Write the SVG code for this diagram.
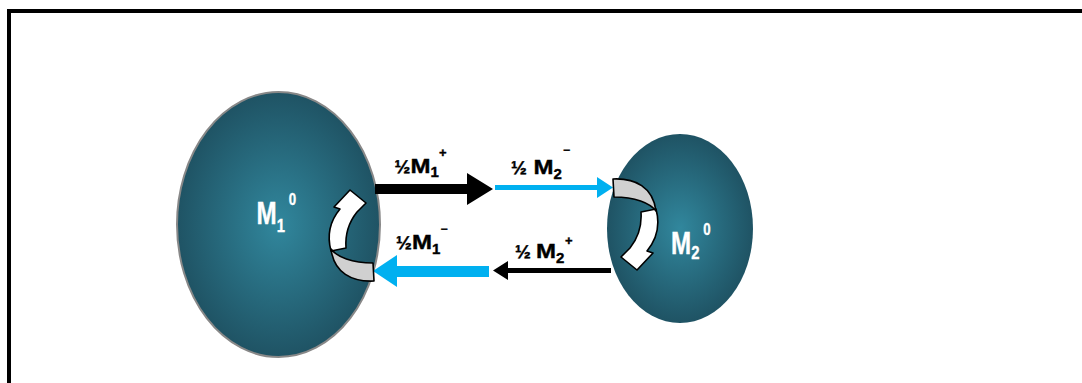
<svg xmlns="http://www.w3.org/2000/svg" xmlns:xlink="http://www.w3.org/1999/xlink" width="1082" height="383" viewBox="0 0 1082 383">
  <style>
    .lbl { font-family: "Liberation Sans", Arial, sans-serif; font-weight: bold; fill: #000; stroke: #000; stroke-width: 0.4; }
    .main { font-family: "Liberation Sans", Arial, sans-serif; font-weight: bold; fill: #fff; stroke: #fff; stroke-width: 0.4; font-size: 31px; }
    .curl { stroke: #000; stroke-width: 1.6; stroke-linejoin: round; }
  </style>
  <defs>
    <radialGradient id="ball" cx="0.5" cy="0.5" r="0.5">
      <stop offset="0" stop-color="#31879d"/>
      <stop offset="1" stop-color="#1f5364"/>
    </radialGradient>
    <g id="curlArrow">
      <path class="curl" fill="#ffffff" d="M 350 190 L 366 203 L 357 212 C 349 222 345 234 346 248 L 331 251 C 327 236 330 221 340 209 L 334 207 Z"/>
      <path class="curl" fill="#d0d0d0" d="M 331 249 C 337 257 352 263 373 263 L 374 281 C 352 282 334 273 331 249 Z"/>
    </g>
  </defs>

  <rect width="1082" height="383" fill="#fff"/>
  <path d="M 9 383 V 11 H 1082" fill="none" stroke="#000" stroke-width="4"/>

  <g id="node-m1">
    <ellipse cx="278.5" cy="224.5" rx="101.5" ry="132.5" fill="url(#ball)" stroke="#888" stroke-width="2"/>
    <text class="main" transform="translate(256.5 224.3) scale(0.78 1)">M<tspan font-size="19" dy="7.7">1</tspan><tspan font-size="17" dx="5" dy="-27">0</tspan></text>
  </g>

  <g id="node-m2">
    <ellipse cx="680" cy="228.5" rx="73" ry="94.5" fill="url(#ball)"/>
    <text class="main" transform="translate(671 254) scale(0.78 1)">M<tspan font-size="19" dy="4.5">2</tspan><tspan font-size="17" dx="5" dy="-23.5">0</tspan></text>
  </g>

  <g id="connectors">
    <polygon fill="#000" points="375,184 467,184 467,173 493,189 467,205 467,194 375,194"/>
    <polygon fill="#00b0f0" points="495,185 597,185 597,177 613,187.5 597,198 597,190 495,190"/>
    <polygon fill="#00b0f0" points="373,271 397,255 397,266 489,266 489,277 397,277 397,287"/>
    <polygon fill="#000" points="493,270.5 508,261 508,268 611,268 611,273 508,273 508,280"/>
    <use xlink:href="#curlArrow"/>
    <use xlink:href="#curlArrow" transform="translate(987 460) scale(-1 -1)"/>
  </g>

  <g id="label-m1-plus">
    <text class="lbl" x="394.5" y="172.5" font-size="19">½</text>
    <text class="lbl" font-size="20" transform="translate(410.5 172.5) scale(1.2 1)">M</text>
    <text class="lbl" x="430.5" y="177" font-size="15">1</text>
    <text class="lbl" x="439" y="157" font-size="13">+</text>
  </g>
  <g id="label-m2-minus">
    <text class="lbl" x="511" y="174" font-size="19">½</text>
    <text class="lbl" font-size="20" transform="translate(533.5 174) scale(1.2 1)">M</text>
    <text class="lbl" x="553.5" y="178.5" font-size="15">2</text>
    <text class="lbl" x="563" y="154" font-size="12">−</text>
  </g>
  <g id="label-m1-minus">
    <text class="lbl" x="396" y="249" font-size="19">½</text>
    <text class="lbl" font-size="20" transform="translate(412 249) scale(1.2 1)">M</text>
    <text class="lbl" x="432" y="253.5" font-size="15">1</text>
    <text class="lbl" x="440.5" y="233" font-size="12">−</text>
  </g>
  <g id="label-m2-plus">
    <text class="lbl" x="515" y="258" font-size="19">½</text>
    <text class="lbl" font-size="20" transform="translate(536 258) scale(1.2 1)">M</text>
    <text class="lbl" x="556" y="262.5" font-size="15">2</text>
    <text class="lbl" x="565" y="245" font-size="13">+</text>
  </g>
</svg>
